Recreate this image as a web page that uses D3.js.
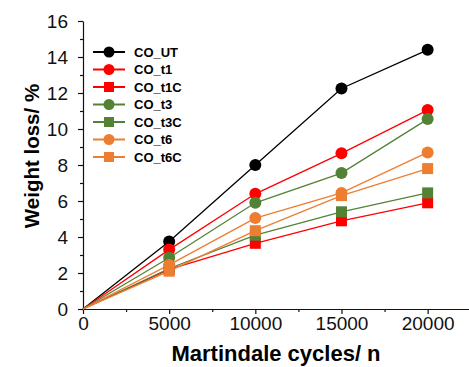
<!DOCTYPE html>
<html><head><meta charset="utf-8">
<script src="https://cdn.jsdelivr.net/npm/d3@7"></script>
<style>body{margin:0;background:#fff}svg{display:block}text{font-family:Arial,"Liberation Sans",sans-serif}</style>
</head><body>
<svg id="c" width="469" height="367"></svg>
<script>
const cycles = [0, 5000, 10000, 15000, 20000];
const seriesNames = ["CO_UT","CO_t1","CO_t1C","CO_t3","CO_t3C","CO_t6","CO_t6C"];
const CO_UT  = [0, 3.75, 8.0, 12.25, 14.4];
const CO_t1  = [0, 3.3, 6.4, 8.65, 11.05];
const CO_t1C = [0, 2.2, 3.65, 4.9, 5.9];
const CO_t3  = [0, 2.85, 5.9, 7.55, 10.55];
const CO_t3C = [0, 2.25, 4.1, 5.4, 6.45];
const CO_t6  = [0, 2.45, 5.05, 6.45, 8.7];
const CO_t6C = [0, 2.1, 4.35, 6.3, 7.8];
const xTicks = [0, 5000, 10000, 15000, 20000];
const yTicks = [0, 2, 4, 6, 8, 10, 12, 14, 16];

const colors = ["#000000","#ff0000","#ff0000","#548235","#548235","#ed7d31","#ed7d31"];
const shapes = ["circle","circle","square","circle","square","circle","square"];
const values = [CO_UT, CO_t1, CO_t1C, CO_t3, CO_t3C, CO_t6, CO_t6C];

const svg = d3.select("#c");
const x = d3.scaleLinear().domain([0, 22400]).range([83, 469]);
const y = d3.scaleLinear().domain([0, 16]).range([309, 21]);

svg.append("g").attr("transform","translate(0,309)")
  .call(d3.axisBottom(x).tickValues(xTicks).tickFormat(d3.format("d")).tickSize(5).tickPadding(3).tickSizeOuter(0));
svg.append("g").attr("transform","translate(0,309)")
  .call(d3.axisBottom(x).tickValues(d3.range(2500, 22500, 5000)).tickSize(3).tickFormat("").tickSizeOuter(0))
  .select(".domain").remove();
svg.append("g").attr("transform","translate(83,0)")
  .call(d3.axisLeft(y).tickValues(yTicks).tickSize(5).tickPadding(10).tickSizeOuter(0));
svg.append("g").attr("transform","translate(83,0)")
  .call(d3.axisLeft(y).tickValues(d3.range(1, 16, 2)).tickSize(3).tickFormat("").tickSizeOuter(0))
  .select(".domain").remove();
svg.selectAll(".tick text").attr("font-size", 19).attr("fill","#111").style("font-family","Arial,'Liberation Sans',sans-serif");
svg.selectAll(".domain, .tick line").attr("stroke","#111").attr("stroke-width",1.2);

svg.append("text").attr("x", 276).attr("y", 361).attr("text-anchor","middle")
  .attr("font-size", 22).attr("font-weight","bold").text("Martindale cycles/ n");
svg.append("text").attr("transform","translate(39,156) rotate(-90)").attr("text-anchor","middle")
  .attr("font-size", 20.5).attr("font-weight","bold").text("Weight loss/ %");

const line = d3.line().x((d,i)=>x(cycles[i])).y(d=>y(d));
function marker(g, cx, cy, shape, color, s) {
  if (shape === "circle") g.append("circle").attr("cx",cx).attr("cy",cy).attr("r",s).attr("fill",color);
  else g.append("rect").attr("x",cx-s).attr("y",cy-s).attr("width",2*s).attr("height",2*s).attr("fill",color);
}

const plot = svg.append("g");
values.forEach((vals, k) => {
  plot.append("path").attr("d", line(vals)).attr("fill","none").attr("stroke",colors[k]).attr("stroke-width",1.3);
});
values.forEach((vals, k) => {
  vals.forEach((v, i) => {
    if (i === 0) return;
    marker(plot, x(cycles[i]), y(v), shapes[k], colors[k], shapes[k]==="circle"?6:5.5);
  });
});

const lg = svg.append("g");
seriesNames.forEach((n, k) => {
  const yy = 52 + k*17.5;
  lg.append("line").attr("x1",93).attr("x2",125).attr("y1",yy).attr("y2",yy).attr("stroke",colors[k]).attr("stroke-width",2);
  marker(lg, 109, yy, shapes[k], colors[k], shapes[k]==="circle"?5.5:5);
  lg.append("text").attr("x",134).attr("y",yy+4.5).attr("font-size",13).attr("font-weight","bold").text(n);
});
</script>
</body></html>
